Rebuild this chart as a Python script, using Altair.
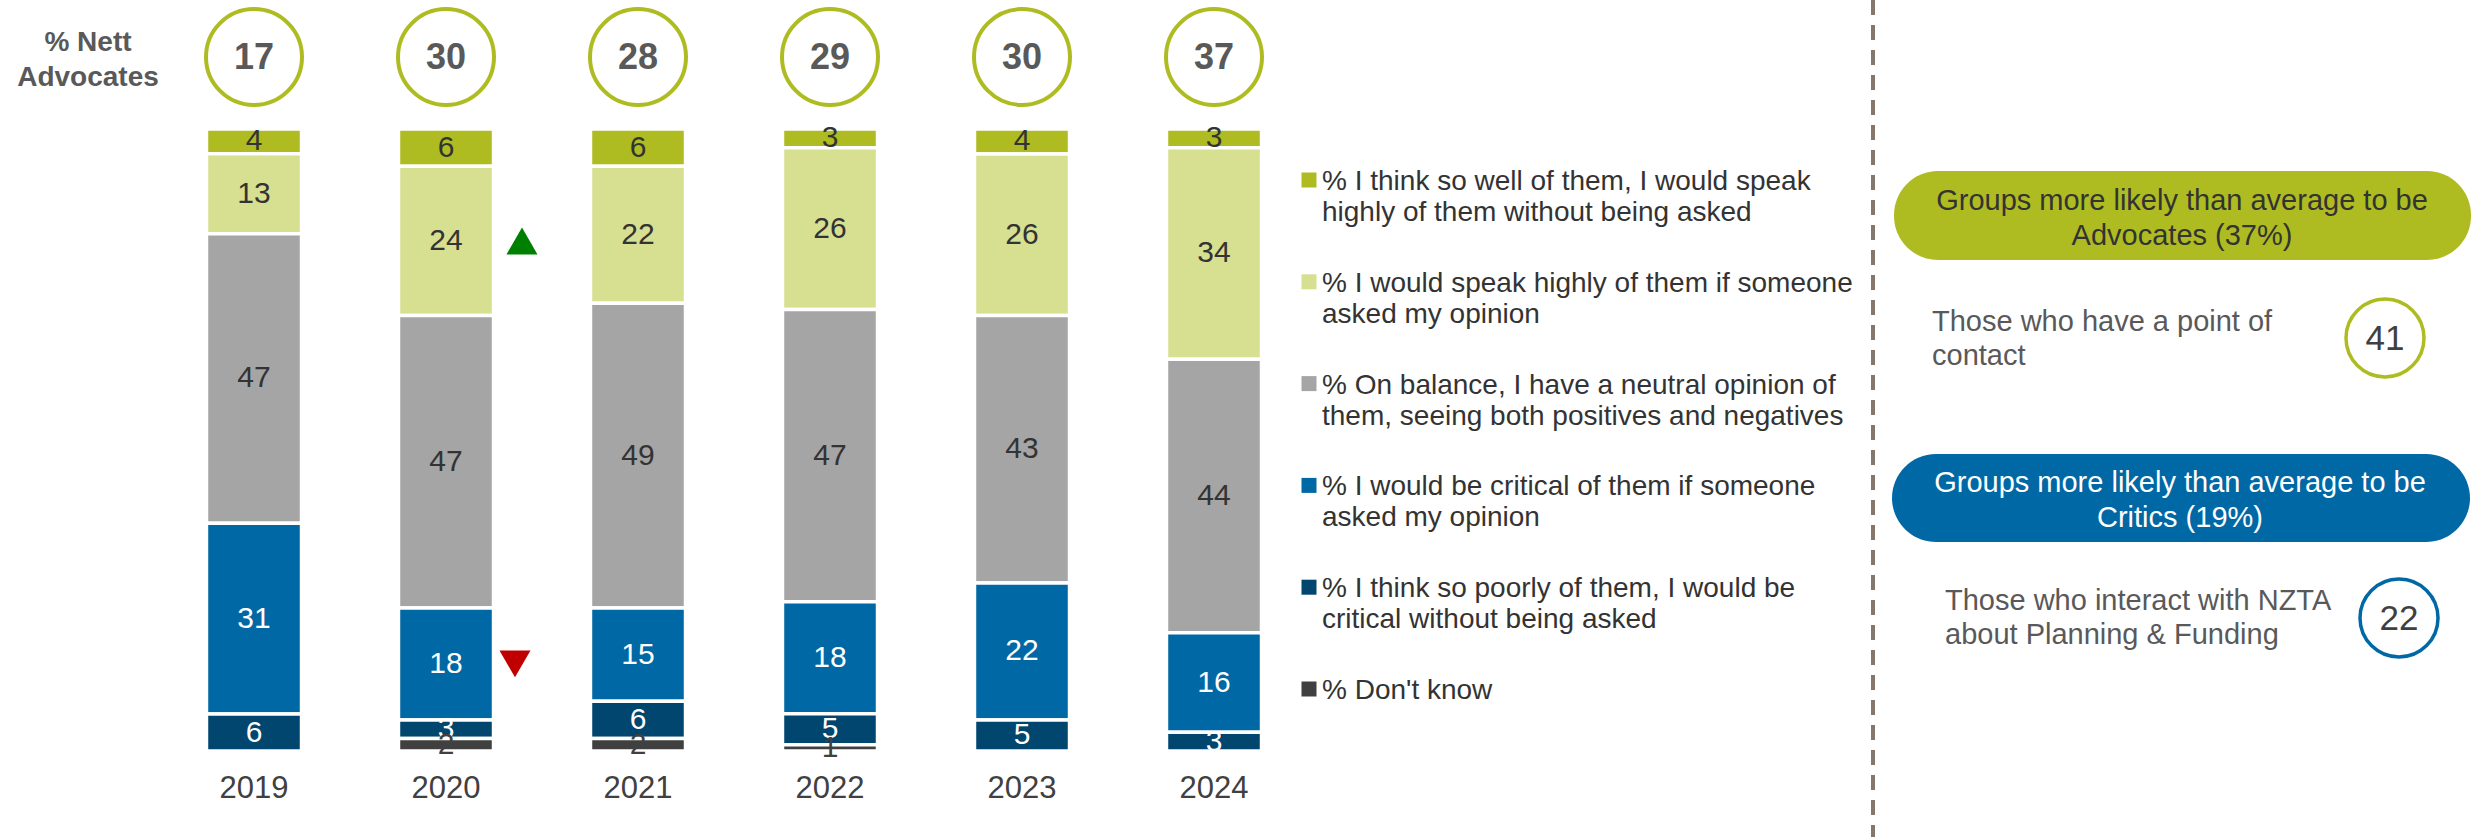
import altair as alt
import pandas as pd

# ---------------- data ----------------
years = ["2019", "2020", "2021", "2022", "2023", "2024"]
nett_advocates = [17, 30, 28, 29, 30, 37]

speak_unprompted = [4, 6, 6, 3, 4, 3]
speak_if_asked = [13, 24, 22, 26, 26, 34]
neutral = [47, 47, 49, 47, 43, 44]
critical_if_asked = [31, 18, 15, 18, 22, 16]
critical_unprompted = [6, 3, 6, 5, 5, 3]
dont_know = [None, 2, 2, 1, None, None]

category_keys = ["well", "highly", "neutral", "critical", "poorly", "dontknow"]
legend_lines = [
    "% I think so well of them, I would speak\nhighly of them without being asked",
    "% I would speak highly of them if someone\nasked my opinion",
    "% On balance, I have a neutral opinion of\nthem, seeing both positives and negatives",
    "% I would be critical of them if someone\nasked my opinion",
    "% I think so poorly of them, I would be\ncritical without being asked",
    "% Don't know",
]
category_colors = ["#AEBC21", "#D7DF91", "#A5A5A5", "#0068A5", "#00466E", "#404040"]
label_colors = ["#333333", "#333333", "#333333", "#FFFFFF", "#FFFFFF", "#404040"]
stack_order = [5, 4, 3, 2, 1, 0]

# significance markers (year, category, direction)
sig_marks = [("2020", "highly", "up"), ("2020", "critical", "down")]

nett_label = "% Nett\nAdvocates"
adv_pill_text = ["Groups more likely than average to be", "Advocates (37%)"]
adv_group_text = ["Those who have a point of", "contact"]
adv_group_value = "41"
crit_pill_text = ["Groups more likely than average to be", "Critics (19%)"]
crit_group_text = ["Those who interact with NZTA", "about Planning & Funding"]
crit_group_value = "22"

FONT = "Liberation Sans"

series = [speak_unprompted, speak_if_asked, neutral, critical_if_asked,
          critical_unprompted, dont_know]
rows = []
for ci, key in enumerate(category_keys):
    for yi, yr in enumerate(years):
        v = series[ci][yi]
        if v is None:
            continue
        sig = ""
        for sy, sc, sd in sig_marks:
            if sy == yr and sc == key:
                sig = sd
        rows.append({"year": yr, "cat": key, "v": v, "order": stack_order[ci],
                     "tcol": label_colors[ci], "sig": sig})
df = pd.DataFrame(rows)

nett_df = pd.DataFrame({"year": years, "nett": nett_advocates})
legend_df = pd.DataFrame({"cat": category_keys, "row": list(range(len(category_keys))),
                          "label": legend_lines})
one = pd.DataFrame({"a": [0]})

xscale = alt.Scale(domain=years, range=[158, 1310], paddingInner=0.505, paddingOuter=0.2525)
yscale = alt.Scale(domain=[0, 1], range=[751, 129])
cscale = alt.Scale(domain=category_keys, range=category_colors)

base = alt.Chart(df).transform_stack(
    stack="v", groupby=["year"], as_=["y0", "y1"], offset="normalize",
    sort=[alt.SortField("order", order="ascending")]
).transform_calculate(mid="(datum.y0 + datum.y1) / 2")

bars = base.mark_bar(stroke="white", strokeWidth=3.5).encode(
    x=alt.X("year:N", scale=xscale, axis=None),
    y=alt.Y("y0:Q", scale=yscale, axis=None),
    y2="y1:Q",
    color=alt.Color("cat:N", scale=cscale, legend=None),
)

bar_labels = base.mark_text(font=FONT, fontSize=30, baseline="middle").encode(
    x=alt.X("year:N", scale=xscale, axis=None),
    y=alt.Y("mid:Q", scale=yscale, axis=None),
    text="v:Q",
    color=alt.Color("tcol:N", scale=None),
)

tri_up = base.transform_filter("datum.sig == 'up'").mark_point(
    shape="triangle-up", size=961, filled=True, color="#008000", opacity=1, xOffset=76
).encode(
    x=alt.X("year:N", scale=xscale, axis=None),
    y=alt.Y("mid:Q", scale=yscale, axis=None),
)
tri_down = base.transform_filter("datum.sig == 'down'").mark_point(
    shape="triangle-down", size=961, filled=True, color="#C00000", opacity=1, xOffset=69
).encode(
    x=alt.X("year:N", scale=xscale, axis=None),
    y=alt.Y("mid:Q", scale=yscale, axis=None),
)

year_labels = alt.Chart(nett_df).mark_text(font=FONT, fontSize=31, color="#404040",
                                           baseline="middle").encode(
    x=alt.X("year:N", scale=xscale, axis=None),
    y=alt.value(789),
    text="year:N",
)

nett_circles = alt.Chart(nett_df).mark_point(
    shape="circle", size=9216, filled=False, strokeWidth=4, color="#AEBC21", opacity=1
).encode(
    x=alt.X("year:N", scale=xscale, axis=None),
    y=alt.value(57),
)
nett_text = alt.Chart(nett_df).mark_text(
    font=FONT, fontSize=36, fontWeight="bold", color="#595959", baseline="middle"
).encode(
    x=alt.X("year:N", scale=xscale, axis=None),
    y=alt.value(58),
    text="nett:Q",
)
nett_title = alt.Chart(one).mark_text(
    font=FONT, fontSize=28, fontWeight="bold", color="#595959", align="center",
    baseline="alphabetic", lineBreak="\n", lineHeight=35
).encode(x=alt.value(88), y=alt.value(51), text=alt.value(nett_label))

# ---------------- legend ----------------
leg_sq = alt.Chart(legend_df).mark_square(size=225, opacity=1).encode(
    x=alt.value(1309),
    y=alt.Y("row:Q", scale=alt.Scale(domain=[0, 5], range=[180, 689]), axis=None),
    color=alt.Color("cat:N", scale=cscale, legend=None),
)
leg_txt = alt.Chart(legend_df).mark_text(
    font=FONT, fontSize=28, color="#333333", align="left", baseline="alphabetic",
    lineBreak="\n", lineHeight=31
).encode(
    x=alt.value(1322),
    y=alt.Y("row:Q", scale=alt.Scale(domain=[0, 5], range=[190, 699]), axis=None),
    text="label:N",
)

# ---------------- right panel ----------------
divider = alt.Chart(one).mark_rule(color="#85776B", strokeWidth=4, strokeDash=[15, 10]).encode(
    x=alt.value(1873), y=alt.value(0), y2=alt.value(837)
)
adv_pill = alt.Chart(one).mark_rect(color="#AEBC21", cornerRadius=44).encode(
    x=alt.value(1894), x2=alt.value(2471), y=alt.value(171), y2=alt.value(260)
)
adv_pill_t = alt.Chart(one).mark_text(
    font=FONT, fontSize=29, color="#333333", align="center", baseline="alphabetic", lineHeight=35
).encode(x=alt.value(2182), y=alt.value(210), text=alt.value(adv_pill_text))
adv_grp_t = alt.Chart(one).mark_text(
    font=FONT, fontSize=29, color="#595959", align="left", baseline="alphabetic", lineHeight=34
).encode(x=alt.value(1932), y=alt.value(331), text=alt.value(adv_group_text))
adv_circle = alt.Chart(one).mark_point(
    shape="circle", size=6084, filled=False, strokeWidth=3.5, color="#AEBC21", opacity=1
).encode(x=alt.value(2385), y=alt.value(338))
adv_val = alt.Chart(one).mark_text(font=FONT, fontSize=35, color="#404040", baseline="middle").encode(
    x=alt.value(2385), y=alt.value(339), text=alt.value(adv_group_value))

crit_pill = alt.Chart(one).mark_rect(color="#0068A5", cornerRadius=44).encode(
    x=alt.value(1892), x2=alt.value(2470), y=alt.value(454), y2=alt.value(542)
)
crit_pill_t = alt.Chart(one).mark_text(
    font=FONT, fontSize=29, color="#FFFFFF", align="center", baseline="alphabetic", lineHeight=35
).encode(x=alt.value(2180), y=alt.value(492), text=alt.value(crit_pill_text))
crit_grp_t = alt.Chart(one).mark_text(
    font=FONT, fontSize=29, color="#595959", align="left", baseline="alphabetic", lineHeight=34
).encode(x=alt.value(1945), y=alt.value(610), text=alt.value(crit_group_text))
crit_circle = alt.Chart(one).mark_point(
    shape="circle", size=6084, filled=False, strokeWidth=3.5, color="#0068A5", opacity=1
).encode(x=alt.value(2399), y=alt.value(618))
crit_val = alt.Chart(one).mark_text(font=FONT, fontSize=35, color="#404040", baseline="middle").encode(
    x=alt.value(2399), y=alt.value(619), text=alt.value(crit_group_value))

chart = alt.layer(
    bars, bar_labels, tri_up, tri_down, year_labels, nett_circles, nett_text, nett_title,
    leg_sq, leg_txt, divider, adv_pill, adv_pill_t, adv_grp_t, adv_circle, adv_val,
    crit_pill, crit_pill_t, crit_grp_t, crit_circle, crit_val,
).resolve_scale(y="independent", color="independent").properties(
    width=2473, height=837, padding=0, autosize="none", background="white"
).configure_view(stroke=None)

chart.save("out.html", embed_options={"renderer": "svg", "actions": False})
